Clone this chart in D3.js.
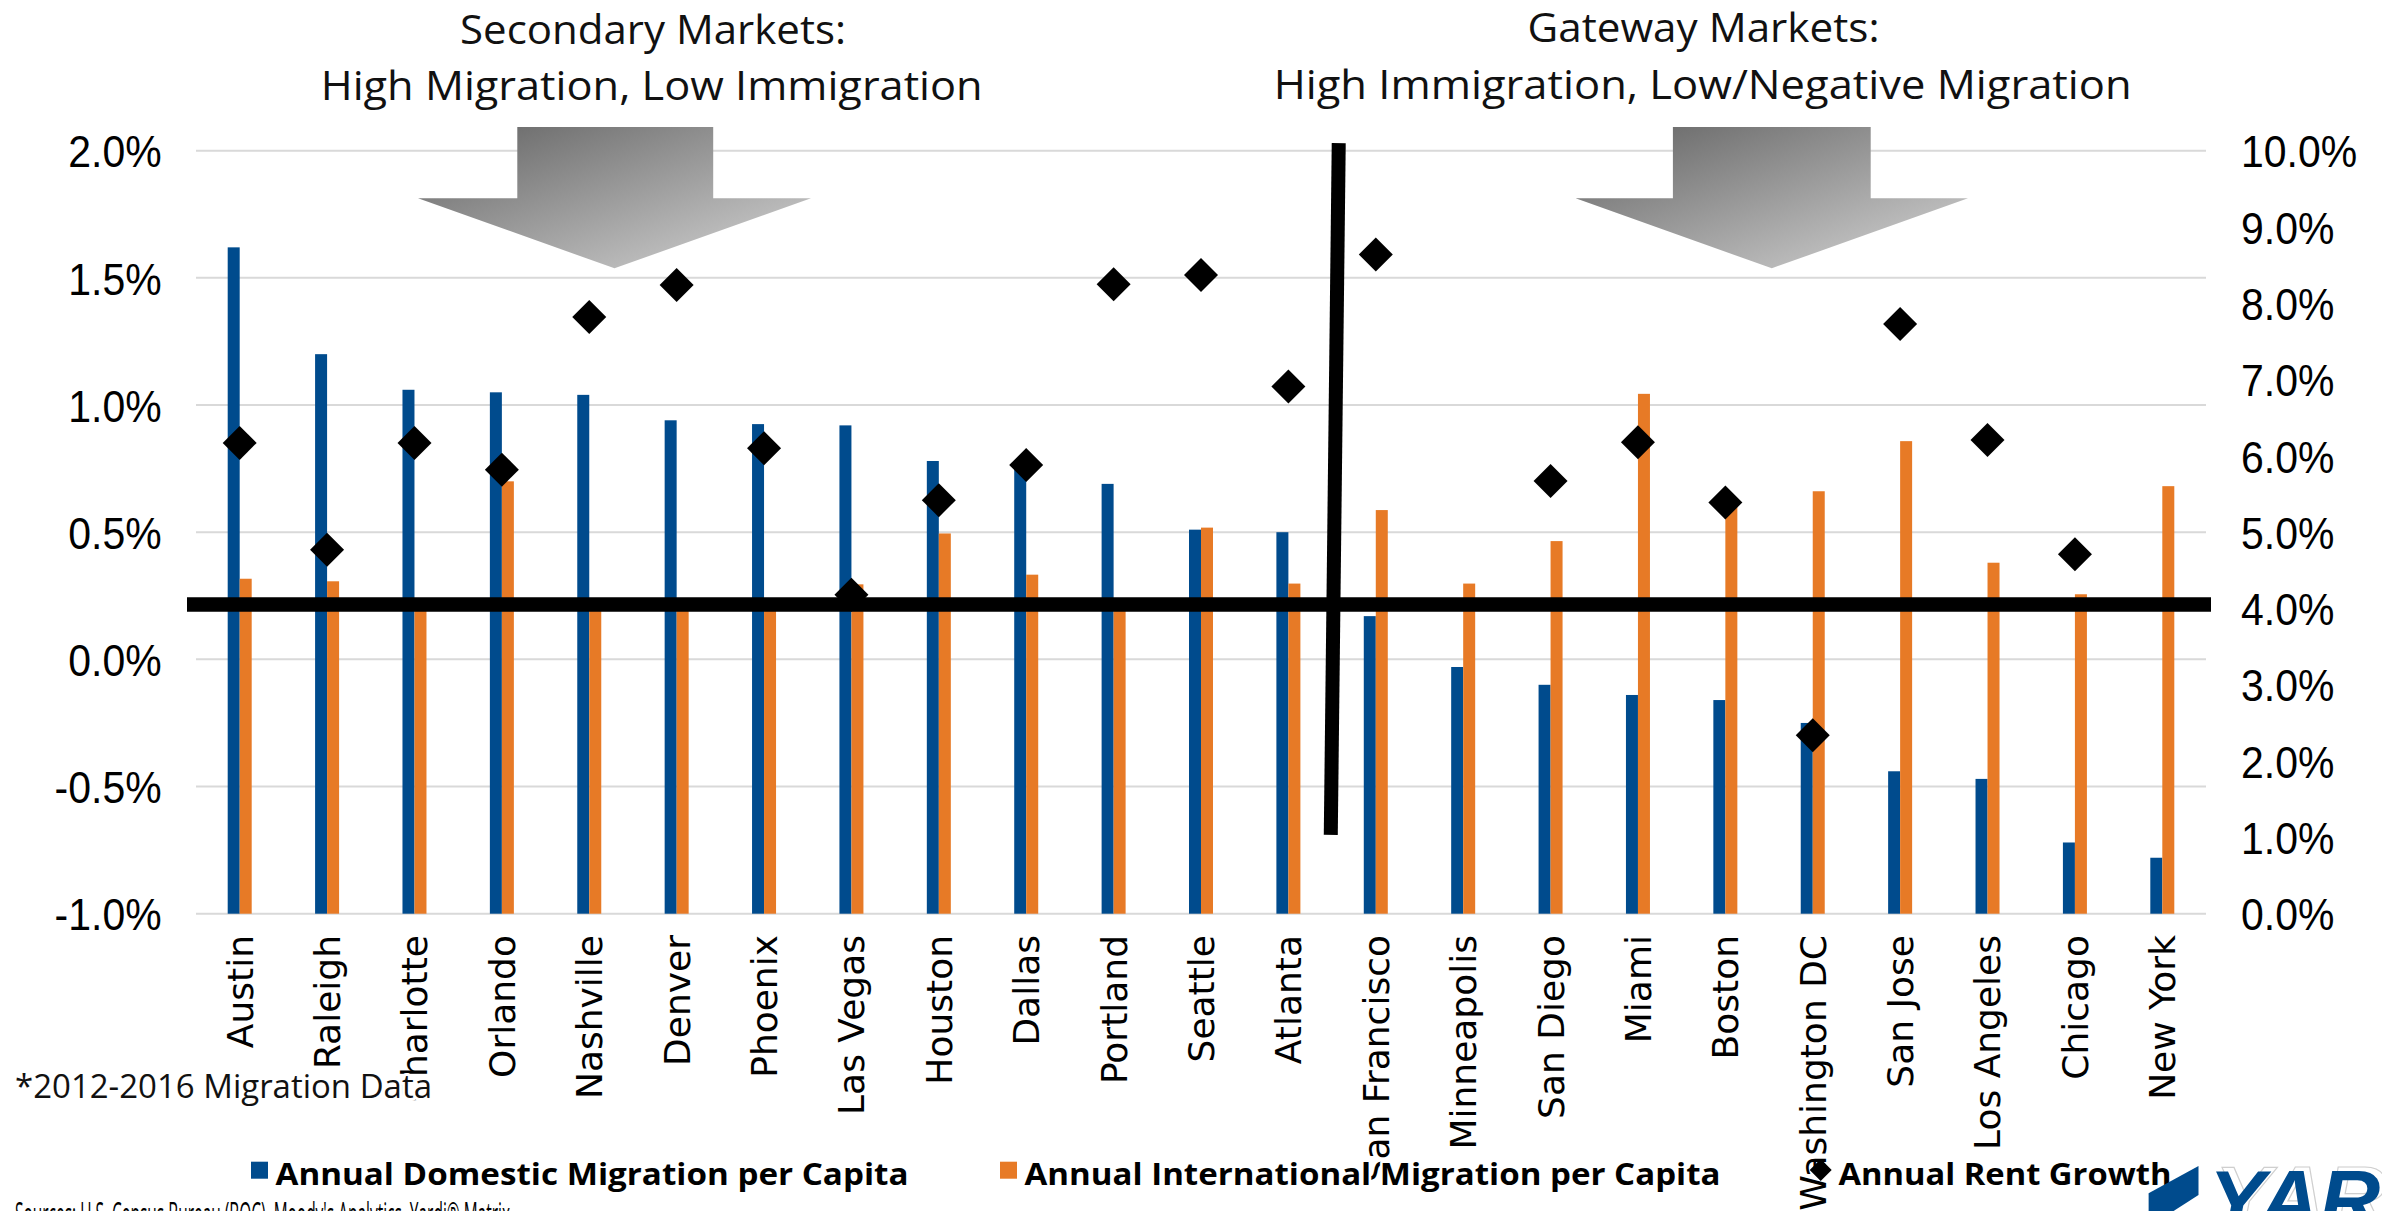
<!DOCTYPE html>
<html>
<head>
<meta charset="utf-8">
<script src="https://cdn.jsdelivr.net/npm/d3@7/dist/d3.min.js"></script>
<style>
  html, body { margin: 0; padding: 0; background: #fff; }
  svg { display: block; }
</style>
</head>
<body>
<svg id="chart" width="2382" height="1211"></svg>
<script>
// ---------------- DATA ----------------
const categories = ["Austin","Raleigh","Charlotte","Orlando","Nashville","Denver","Phoenix","Las Vegas",
  "Houston","Dallas","Portland","Seattle","Atlanta","San Francisco","Minneapolis","San Diego","Miami",
  "Boston","Washington DC","San Jose","Los Angeles","Chicago","New York"];

// Annual Domestic Migration per Capita (%)
const domesticMigration = [1.62,1.20,1.06,1.05,1.04,0.94,0.925,0.92,0.78,0.75,0.69,0.51,0.50,0.17,
  -0.03,-0.10,-0.14,-0.16,-0.25,-0.44,-0.47,-0.72,-0.78];

// Annual International Migration per Capita (%)
const internationalMigration = [0.317,0.307,0.21,0.70,0.20,0.22,0.21,0.295,0.495,0.333,0.21,0.518,0.298,
  0.587,0.298,0.465,1.044,0.60,0.661,0.858,0.38,0.256,0.681];

// Annual Rent Growth (%) – right axis
const rentGrowth = [6.17,4.77,6.17,5.82,7.82,8.24,6.10,4.18,5.42,5.88,8.25,8.37,6.91,8.64,null,
  5.67,6.18,5.39,2.34,7.73,6.21,4.71,null];

const leftTicks = [-1.0,-0.5,0.0,0.5,1.0,1.5,2.0];
const rightTicks = [0,1,2,3,4,5,6,7,8,9,10];

const seriesNames = ["Annual Domestic Migration per Capita","Annual International Migration per Capita","Annual Rent Growth"];
const titleLeft = ["Secondary Markets:","High Migration, Low Immigration"];
const titleRight = ["Gateway Markets:","High Immigration, Low/Negative Migration"];
const footnote = "*2012-2016 Migration Data";
const sourceText = "Sources: U.S. Census Bureau (BOC), Moody's Analytics, Yardi® Matrix";

// divider annotations (in data units)
const dividerH = 0.216;          // left-axis value of the horizontal divider
const dividerV = {bottom: -0.69, top: 2.03}; // left-axis range of the vertical divider

// ---------------- SETUP ----------------
const BLUE = "#004B8D", ORANGE = "#E77A26";
const svg = d3.select("#chart");
svg.append("rect").attr("width",2382).attr("height",1211).attr("fill","#fff");

const x = d3.scaleBand().domain(categories).range([196, 2206]).padding(0);
const sub = d3.scaleBand().domain(["dom","intl"]).range([-12, 12]).padding(0);
const yL = d3.scaleLinear().domain([-1, 2]).range([913.7, 150.7]);
const yR = d3.scaleLinear().domain([0, 10]).range([913.7, 150.7]);
const cx = c => x(c) + x.bandwidth()/2;

const defs = svg.append("defs");
const grad = defs.append("linearGradient").attr("id","arrowGrad")
  .attr("x1","0").attr("y1","0").attr("x2","1").attr("y2","1");
grad.append("stop").attr("offset","0%").attr("stop-color","#626262");
grad.append("stop").attr("offset","100%").attr("stop-color","#d6d6d6");

// gridlines
svg.append("g").selectAll("line").data(leftTicks).join("line")
  .attr("x1", 196).attr("x2", 2206)
  .attr("y1", d => yL(d)).attr("y2", d => yL(d))
  .attr("stroke", "#d9d9d9").attr("stroke-width", 2);

// axis labels (hyphen-minus as in the original)
const f1 = d3.format(".1f");
const fmt = d => f1(d).replace("\u2212", "-") + "%";
const leftLab = svg.append("g").selectAll("text").data(leftTicks).join("text")
  .attr("x", 161.6).attr("y", d => yL(d)).attr("dy","0.37em")
  .attr("text-anchor","end")
  .attr("font-family","'Liberation Sans', Arial, sans-serif").attr("font-size",45)
  .attr("fill","#000").text(fmt);
const rightLab = svg.append("g").selectAll("text").data(rightTicks).join("text")
  .attr("x", 2241).attr("y", d => yR(d)).attr("dy","0.37em")
  .attr("text-anchor","start")
  .attr("font-family","'Liberation Sans', Arial, sans-serif").attr("font-size",45)
  .attr("fill","#000").text(fmt);
[leftLab, rightLab].forEach(sel => sel.each(function(){
  const L = this.getComputedTextLength();
  d3.select(this).attr("textLength", L*0.91).attr("lengthAdjust","spacingAndGlyphs");
}));

// bars (drawn from the axis bottom)
const base = yL.domain()[0];
svg.append("g").selectAll("rect").data(categories).join("rect")
  .attr("x", d => cx(d) + sub("dom")).attr("width", sub.bandwidth())
  .attr("y", (d,i) => yL(domesticMigration[i]))
  .attr("height", (d,i) => yL(base) - yL(domesticMigration[i]))
  .attr("fill", BLUE);
svg.append("g").selectAll("rect").data(categories).join("rect")
  .attr("x", d => cx(d) + sub("intl")).attr("width", sub.bandwidth())
  .attr("y", (d,i) => yL(internationalMigration[i]))
  .attr("height", (d,i) => yL(base) - yL(internationalMigration[i]))
  .attr("fill", ORANGE);

// diamonds
const D = 17;
svg.append("g").selectAll("path").data(categories.map((c,i)=>({c, v: rentGrowth[i]})).filter(d => d.v != null))
  .join("path")
  .attr("d", `M0,${-D} L${D},0 L0,${D} L${-D},0 Z`)
  .attr("transform", d => `translate(${cx(d.c)},${yR(d.v)})`)
  .attr("fill","#000");

// arrows
function arrow(g, left, right, shaftL, shaftR) {
  const top = 127, neck = 198.3, tip = 268.3, mid = (left+right)/2;
  g.append("path")
    .attr("d", `M${shaftL},${top} L${shaftR},${top} L${shaftR},${neck} L${right},${neck} L${mid},${tip} L${left},${neck} L${shaftL},${neck} Z`)
    .attr("fill","url(#arrowGrad)");
}
const ga = svg.append("g");
arrow(ga, 418, 811, 517.3, 713.2);
arrow(ga, 1575.6, 1968, 1672.9, 1870.7);

// divider lines
const step = x.step();
svg.append("line")
  .attr("x1", 187).attr("x2", 2211)
  .attr("y1", yL(dividerH)).attr("y2", yL(dividerH))
  .attr("stroke","#000").attr("stroke-width",14.5);
const vIdx = categories.indexOf("San Francisco");
svg.append("line")
  .attr("x1", x(categories[vIdx]) - 0.015*step).attr("y1", yL(dividerV.bottom))
  .attr("x2", x(categories[vIdx]) + 0.076*step).attr("y2", yL(dividerV.top))
  .attr("stroke","#000").attr("stroke-width",14);

// category labels
svg.append("g").selectAll("text").data(categories).join("text")
  .attr("transform", d => `translate(${cx(d)},935) rotate(-90)`)
  .attr("text-anchor","end").attr("dy","0.36em")
  .attr("font-family","'DejaVu Sans', Verdana, sans-serif").attr("font-size",36)
  .attr("fill","#000").text(d => d);

// titles
function fitText(txt, xc, yb, w, size, weight, anchor) {
  return svg.append("text").attr("x", xc).attr("y", yb)
    .attr("text-anchor", anchor || "middle")
    .attr("font-family","'Open Sans', 'Noto Sans', sans-serif")
    .attr("font-size", size).attr("font-weight", weight || 400)
    .attr("fill","#111")
    .attr("textLength", w).attr("lengthAdjust","spacingAndGlyphs")
    .text(txt);
}
fitText(titleLeft[0], 653, 43.5, 386, 41);
fitText(titleLeft[1], 651.7, 100, 662, 41);
fitText(titleRight[0], 1703.5, 42, 352, 41);
fitText(titleRight[1], 1702.7, 98.5, 858, 41);

// footnote with halo
fitText(footnote, 15, 1098, 417, 32, 400, "start")
  .attr("stroke","#fff").attr("stroke-width",6).attr("paint-order","stroke").attr("stroke-linejoin","round");

// legend
const lg = svg.append("g");
lg.append("rect").attr("x",251).attr("y",1161.7).attr("width",17).attr("height",17).attr("fill",BLUE);
lg.append("rect").attr("x",1000).attr("y",1161.7).attr("width",17).attr("height",17).attr("fill",ORANGE);
const legendTexts = [[seriesNames[0],275.5,633],[seriesNames[1],1024.5,696],[seriesNames[2],1838.4,333]];
legendTexts.forEach(([t,xs,w]) => {
  fitText(t, xs, 1185, w, 31, 700, "start")
    .attr("fill","#000")
    .attr("stroke","#fff").attr("stroke-width",5).attr("paint-order","stroke").attr("stroke-linejoin","round");
});
lg.append("path").attr("d","M0,-11 L11,0 L0,11 L-11,0 Z")
  .attr("transform","translate(1820.7,1170)").attr("fill","#000");

// source line (mostly cut off at the bottom edge)
fitText(sourceText, 15, 1226, 495, 32, 400, "start").attr("fill","#000");

// logo
const logo = svg.append("g");
logo.append("path")
  .attr("d","M2198.5,1166 L2198.5,1195 L2173.6,1211 L2148.6,1211 L2148.6,1193.3 Z")
  .attr("fill", BLUE);
logo.append("text").attr("x",2209).attr("y",1229)
  .attr("font-family","'Liberation Sans', Arial, sans-serif").attr("font-size",84)
  .attr("font-weight",700).attr("font-style","italic")
  .attr("fill","none").attr("stroke","#cfcfcf").attr("stroke-width",1.2)
  .attr("transform","translate(6,-4)")
  .text("YARDI");
logo.append("text").attr("x",2209).attr("y",1229)
  .attr("font-family","'Liberation Sans', Arial, sans-serif").attr("font-size",84)
  .attr("font-weight",700).attr("font-style","italic")
  .attr("fill", BLUE)
  .text("YARDI");
</script>
</body>
</html>
